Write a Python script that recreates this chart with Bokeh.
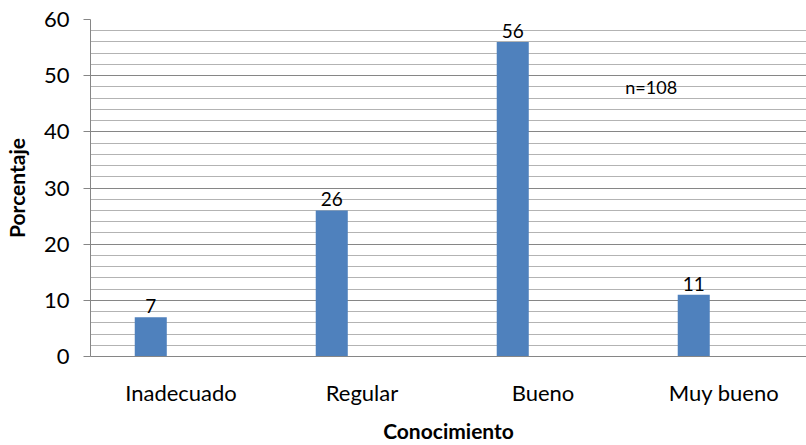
from bokeh.plotting import figure
from bokeh.models import ColumnDataSource, Range1d, FixedTicker, SingleIntervalTicker, Label, LabelSet
from bokeh.core.properties import value
from bokeh.embed import file_html
from bokeh.resources import INLINE

categories = ["Inadecuado", "Regular", "Bueno", "Muy bueno"]
values = [7, 26, 56, 11]
labels = ["7", "26", "56", "11"]
y_ticks = [0, 10, 20, 30, 40, 50, 60]
note = "n=108"

pos = [i + 0.333 for i in range(len(categories))]
centers = [i + 0.5 for i in range(len(categories))]

src = ColumnDataSource(dict(x=pos, top=values, lab=labels))

p = figure(width=806, height=445, output_backend="svg", toolbar_location=None,
           x_range=Range1d(0, 3.956), y_range=Range1d(0, 60),
           min_border_left=90, min_border_right=0, min_border_top=19, min_border_bottom=89)
p.outline_line_color = None
p.background_fill_color = "white"
p.border_fill_color = "white"

p.vbar(x="x", top="top", width=0.177, bottom=0, source=src, color="#4f81bd", line_color=None)

ls = LabelSet(x="x", y="top", text="lab", source=src, text_align="center", text_baseline="bottom",
              y_offset=4, text_font=value("Lato"), text_font_size=value("19px"),
              text_color=value("#000000"))
p.add_layout(ls)

p.add_layout(Label(x=2.955, y=48, text=note, text_baseline="middle", text_align="left",
                   text_font="Lato", text_font_size="18px", text_color="#000000"))

# grids
p.xgrid.visible = False
p.yaxis.ticker = SingleIntervalTicker(interval=10, num_minor_ticks=5)
p.ygrid.grid_line_color = "#868686"
p.ygrid.grid_line_width = 1
p.ygrid.minor_grid_line_color = "#b3b3b3"
p.ygrid.minor_grid_line_width = 1

# y axis
ya = p.yaxis[0]
ya.axis_line_color = "#868686"
ya.major_tick_line_color = "#868686"
ya.major_tick_out = 7
ya.major_tick_in = 0
ya.minor_tick_line_color = None
ya.major_label_standoff = 14
ya.major_label_text_font = "Lato"
ya.major_label_text_font_size = "22px"
ya.major_label_text_color = "#000000"
ya.axis_label = "Porcentaje"
ya.axis_label_text_font = "Lato"
ya.axis_label_text_font_style = "bold"
ya.axis_label_text_font_size = "21px"
ya.axis_label_text_color = "#000000"
ya.axis_label_standoff = 12

# x axis
xa = p.xaxis[0]
xa.ticker = FixedTicker(ticks=centers)
xa.major_label_overrides = {c: n for c, n in zip(centers, categories)}
xa.axis_line_color = "#868686"
xa.major_tick_line_color = None
xa.minor_tick_line_color = None
xa.major_label_standoff = 16
xa.major_label_text_font = "Lato"
xa.major_label_text_font_size = "22px"
xa.major_label_text_color = "#000000"
xa.axis_label = "Conocimiento"
xa.axis_label_text_font = "Lato"
xa.axis_label_text_font_style = "bold"
xa.axis_label_text_font_size = "21px"
xa.axis_label_text_color = "#000000"
xa.axis_label_standoff = 9

open("out.html", "w").write(file_html(p, INLINE))
